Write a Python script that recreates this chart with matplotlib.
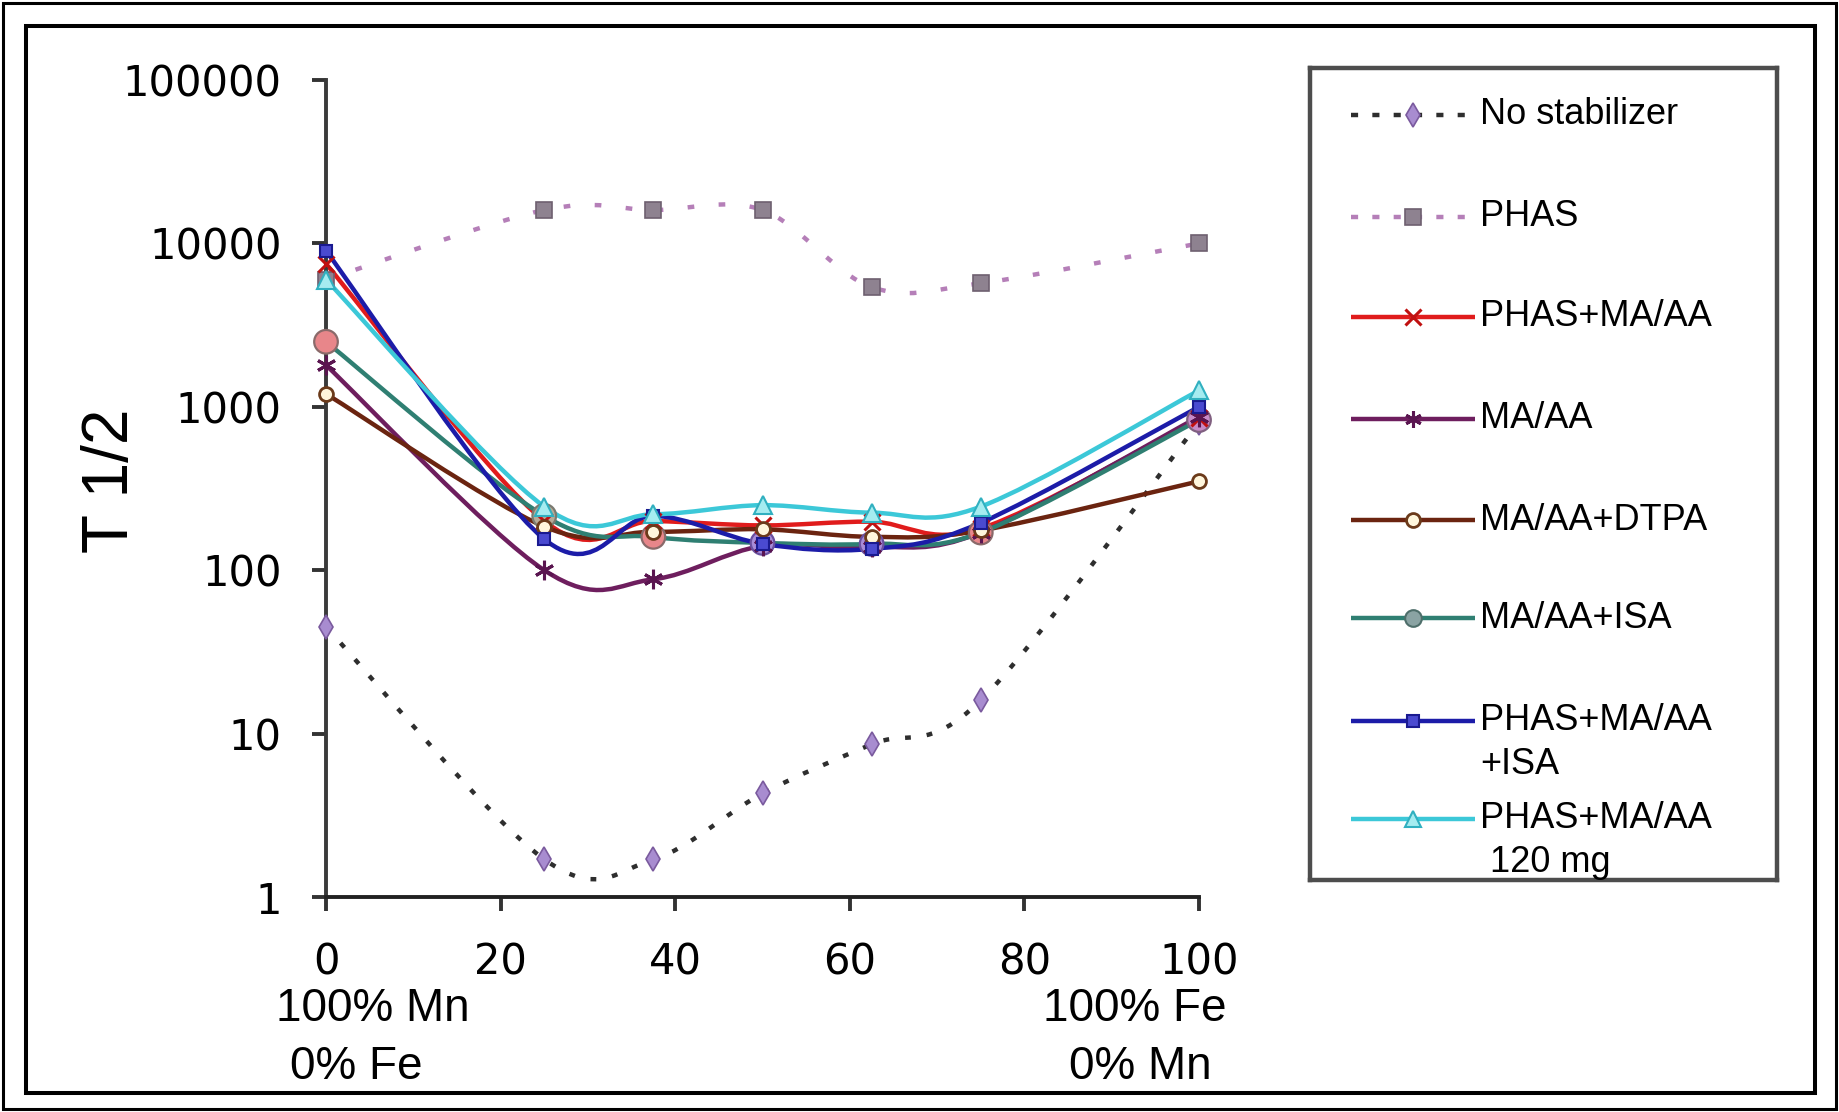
import numpy as np
import matplotlib
matplotlib.use("Agg")
import matplotlib.pyplot as plt
from matplotlib.path import Path
from matplotlib.patches import PathPatch, Rectangle

plt.rcParams['font.family'] = ['Liberation Sans', 'DejaVu Sans']

# ---------------- data ----------------
pct_fe = [0, 25, 37.5, 50, 62.5, 75, 100]

no_stabilizer = [45, 1.7, 1.7, 4.3, 8.6, 16, 800]
phas = [6000, 16000, 16000, 16000, 5400, 5700, 10000]
phas_maaa = [7500, 200, 200, 188, 198, 180, 850]
maaa = [1800, 100, 88, 141, 138, 170, 870]
maaa_dtpa = [1200, 185, 172, 178, 160, 175, 350]
maaa_isa = [2500, 215, 160, 147, 145, 170, 830]
phas_maaa_isa = [9000, 155, 215, 145, 135, 195, 1000]
phas_maaa_120 = [6000, 245, 220, 250, 225, 245, 1260]

labels = ["No stabilizer", "PHAS", "PHAS+MA/AA", "MA/AA", "MA/AA+DTPA",
          "MA/AA+ISA", ["PHAS+MA/AA", "+ISA"], ["PHAS+MA/AA", " 120 mg"]]

y_ticks = [1, 10, 100, 1000, 10000, 100000]
y_tick_labels = ["1", "10", "100", "1000", "10000", "100000"]
x_ticks = [0, 20, 40, 60, 80, 100]
x_tick_labels = ["0", "20", "40", "60", "80", "100"]
y_label = "T 1/2"
left_end_label = ["100% Mn", "0% Fe"]
right_end_label = ["100% Fe", "0% Mn"]

series = [no_stabilizer, phas, phas_maaa, maaa, maaa_dtpa, maaa_isa,
          phas_maaa_isa, phas_maaa_120]

# ---------------- styles ----------------
styles = [
    dict(color='#2e2e2e', lw=3.2, ls=(0, (1.3, 3.6)),
         marker='d', mfc='#a88cd0', mec='#7a5a9e', ms=12, mew=1.2),
    dict(color='#b57fb8', lw=3.2, ls=(0, (1.5, 5.5)),
         marker='s', mfc='#8e8290', mec='#6e6070', ms=12, mew=1.2),
    dict(color='#e01c1c', lw=3.2, ls='-',
         marker='x', mfc='#e01c1c', mec='#c01010', ms=12, mew=2.2),
    dict(color='#6e1e5e', lw=3.2, ls='-',
         marker=(6, 2, 0), mfc='#6e1e5e', mec='#5a1550', ms=14, mew=2.2),
    dict(color='#6b2410', lw=3.2, ls='-',
         marker='o', mfc='#fff6dc', mec='#6b3a1a', ms=10, mew=2.0),
    dict(color='#2f7f72', lw=3.2, ls='-',
         marker='o', mfc='#8aa3a3', mec='#4e6e6a', ms=13, mew=1.5),
    dict(color='#1c1ca8', lw=3.2, ls='-',
         marker='s', mfc='#4a4ad0', mec='#1a1a90', ms=9, mew=1.5),
    dict(color='#3cc8d8', lw=3.2, ls='-',
         marker='^', mfc='#a5ecf0', mec='#30b0c0', ms=13, mew=1.5),
]
# per-point marker colours of the MA/AA+ISA series as seen in the chart
isa_point_faces = ['#e8868a', '#b8ab98', '#e8868a', '#a88cd8', '#a88cd8',
                   '#e8868a', '#c88ac8']
isa_point_edges = ['#8a6a6a', '#7a7a70', '#8a6a6a', '#6a50a0', '#6a50a0',
                   '#8a6a6a', '#806080']


def smooth_path(xs, ys):
    """Excel-like smoothed line: Catmull-Rom Bezier in (x, log10 y) space."""
    X = np.asarray(xs, float)
    L = np.log10(np.asarray(ys, float))
    P = np.column_stack([X, L])
    n = len(P)
    verts = [P[0]]
    codes = [Path.MOVETO]
    for i in range(n - 1):
        p0 = P[i - 1] if i > 0 else P[i]
        p1 = P[i]
        p2 = P[i + 1]
        p3 = P[i + 2] if i + 2 < n else P[i + 1]
        c1 = p1 + (p2 - p0) / 6.0
        c2 = p2 - (p3 - p1) / 6.0
        verts += [c1, c2, p2]
        codes += [Path.CURVE4] * 3
    V = np.array(verts)
    V[:, 1] = 10 ** V[:, 1]
    return Path(V, codes)


W, H = 1839, 1112
fig = plt.figure(figsize=(W / 100, H / 100), dpi=100)
fig.patch.set_facecolor('white')

# frames
fig.add_artist(Rectangle((3 / W, 3 / H), (W - 6) / W, (H - 6) / H,
                         transform=fig.transFigure, fill=False,
                         ec='black', lw=2.2))
fig.add_artist(Rectangle((26 / W, 1 - 1093 / H), (1815 - 26) / W,
                         (1093 - 26) / H, transform=fig.transFigure,
                         fill=False, ec='black', lw=2.9))

ax = fig.add_axes([326 / W, 1 - 897 / H, (1199 - 326) / W, (897 - 80) / H])
ax.set_yscale('log')
ax.set_xlim(0, 100)
ax.set_ylim(1, 100000)
ax.set_facecolor('none')

for k, (vals, st) in enumerate(zip(series, styles)):
    patch = PathPatch(smooth_path(pct_fe, vals), fill=False,
                      ec=st['color'], lw=st['lw'], ls=st['ls'],
                      zorder=2 + k * 0.1, capstyle='butt')
    patch.set_clip_on(False)
    ax.add_patch(patch)

for k, (vals, st) in enumerate(zip(series, styles)):
    if k == 5:
        ax.scatter(pct_fe, vals, s=(17) ** 2, marker='o',
                   facecolors=isa_point_faces, edgecolors=isa_point_edges,
                   linewidths=1.6, zorder=4, clip_on=False)
    else:
        ax.plot(pct_fe, vals, ls='none', marker=st['marker'],
                mfc=st['mfc'], mec=st['mec'], ms=st['ms'], mew=st['mew'],
                zorder=4 + k * 0.1, clip_on=False)

for s in ['top', 'right']:
    ax.spines[s].set_visible(False)
ax.spines['left'].set_color('#3a3a3a')
ax.spines['bottom'].set_color('#222222')
ax.spines['left'].set_linewidth(2.8)
ax.spines['bottom'].set_linewidth(2.8)

ax.set_yticks(y_ticks)
ax.set_yticklabels(y_tick_labels, fontfamily='DejaVu Sans', fontsize=30)
ax.yaxis.set_minor_locator(matplotlib.ticker.NullLocator())
ax.set_xticks(x_ticks)
ax.set_xticklabels(x_tick_labels, fontfamily='DejaVu Sans', fontsize=30)
ax.tick_params(axis='y', direction='out', length=10, width=2.8,
               pad=22, color='#333333')
ax.tick_params(axis='x', direction='out', length=10, width=2.8,
               pad=22, color='#333333')

fig.text(111 / W, 1 - 481 / H, y_label, rotation=90, fontsize=46,
         ha='center', va='center')
fig.text(373 / W, 1 - 1009 / H, left_end_label[0], fontsize=33,
         ha='center', va='center')
fig.text(356 / W, 1 - 1067 / H, left_end_label[1], fontsize=33,
         ha='center', va='center')
fig.text(1135 / W, 1 - 1009 / H, right_end_label[0], fontsize=33,
         ha='center', va='center')
fig.text(1140 / W, 1 - 1067 / H, right_end_label[1], fontsize=33,
         ha='center', va='center')

# ---------------- legend (manual, Excel-like) ----------------
lx0, lx1, ly0, ly1 = 1310, 1777, 68, 880
lax = fig.add_axes([lx0 / W, 1 - ly1 / H, (lx1 - lx0) / W, (ly1 - ly0) / H])
lax.set_xlim(lx0, lx1)
lax.set_ylim(ly1, ly0)
lax.set_xticks([])
lax.set_yticks([])
for s in lax.spines.values():
    s.set_color('#4d4d4d')
    s.set_linewidth(3.2)

entry_y = [115, 217, 317, 419, 520, 618, 721, 819]
second_line_dy = 44
legend_dashes = [(0, (1.6, 3.2)), (0, (1.6, 3.2))]
for k, (lab, st, yc) in enumerate(zip(labels, styles, entry_y)):
    ls = legend_dashes[k] if k < 2 else st['ls']
    lax.plot([1351, 1475], [yc, yc], color=st['color'], lw=st['lw'],
             ls=ls, solid_capstyle='butt', dash_capstyle='butt')
    if k == 5:
        lax.plot([1413], [yc], ls='none', marker='o', mfc='#8aa3a3',
                 mec='#4e6e6a', ms=12, mew=1.5)
    else:
        lax.plot([1413], [yc], ls='none', marker=st['marker'], mfc=st['mfc'],
                 mec=st['mec'], ms=min(st['ms'], 12), mew=st['mew'])
    if isinstance(lab, list):
        lax.text(1480, yc, lab[0], fontsize=26, ha='left', va='center')
        lax.text(1480, yc + second_line_dy, lab[1], fontsize=26,
                 ha='left', va='center')
    else:
        lax.text(1480, yc, lab, fontsize=26, ha='left', va='center')

fig.savefig('out.png', dpi=100, facecolor='white')
